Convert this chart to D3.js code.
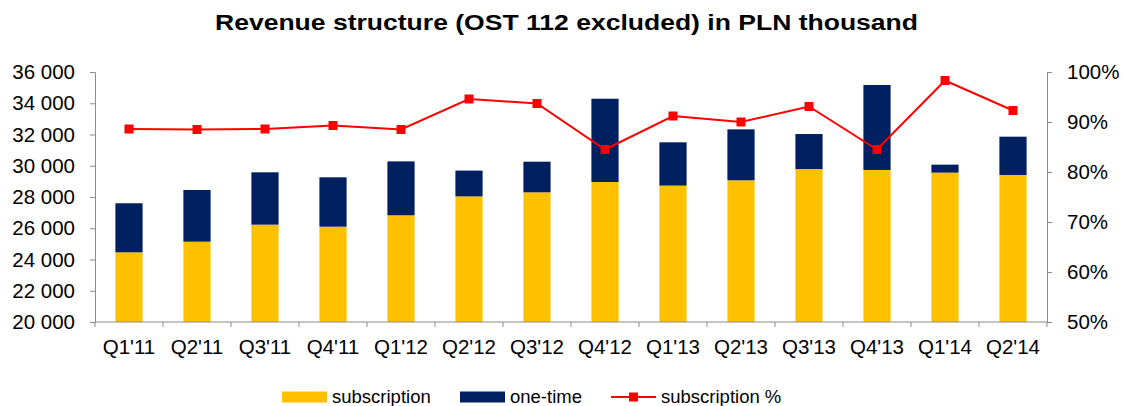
<!DOCTYPE html>
<html>
<head>
<meta charset="utf-8">
<script src="https://cdn.jsdelivr.net/npm/d3@7/dist/d3.min.js"></script>
<style>
  body { margin: 0; background: #fff; }
  text { font-family: "Liberation Sans", Arial, sans-serif; fill: #000; }
</style>
</head>
<body>
<div class="chart"></div>
<script>
const quarters = ["Q1'11", "Q2'11", "Q3'11", "Q4'11", "Q1'12", "Q2'12", "Q3'12",
                  "Q4'12", "Q1'13", "Q2'13", "Q3'13", "Q4'13", "Q1'14", "Q2'14"];
const subscription = [24460, 25140, 26230, 26100, 26830, 28040, 28300,
                      28960, 28730, 29070, 29790, 29730, 29560, 29410];
const totals = [27600, 28450, 29580, 29260, 30280, 29690, 30260,
                34290, 31500, 32330, 32030, 35170, 30070, 31860];
const subscriptionPct = [88.6, 88.5, 88.6, 89.3, 88.5, 94.6, 93.7,
                         84.5, 91.2, 90.0, 93.1, 84.5, 98.3, 92.3];
const leftTicks = [20000, 22000, 24000, 26000, 28000, 30000, 32000, 34000, 36000];
const rightTicks = [50, 60, 70, 80, 90, 100];

const W = 1123, H = 406;
const margin = { top: 72, right: 76, bottom: 84, left: 95 };
const fontSize = "20.5px";

const svg = d3.select(".chart").append("svg")
  .attr("width", W)
  .attr("height", H);

svg.append("text")
  .attr("x", 215)
  .attr("y", 30)
  .attr("textLength", 703)
  .attr("lengthAdjust", "spacingAndGlyphs")
  .style("font-size", "21.5px")
  .style("font-weight", "bold")
  .text("Revenue structure (OST 112 excluded) in PLN thousand");

const x = d3.scaleBand()
  .domain(quarters)
  .range([margin.left, W - margin.right])
  .paddingInner(0.6)
  .paddingOuter(0.3);

const y = d3.scaleLinear()
  .domain([20000, 36000])
  .range([H - margin.bottom, margin.top]);

const y2 = d3.scaleLinear()
  .domain([50, 100])
  .range([H - margin.bottom, margin.top]);

const step = (W - margin.right - margin.left) / quarters.length;

// bars
const g = svg.append("g");
g.selectAll("rect.sub").data(quarters).enter()
  .append("rect")
  .attr("class", "sub")
  .attr("x", d => x(d))
  .attr("width", x.bandwidth())
  .attr("y", (d, i) => y(subscription[i]))
  .attr("height", (d, i) => y(20000) - y(subscription[i]))
  .attr("fill", "#FFC000");

g.selectAll("rect.one").data(quarters).enter()
  .append("rect")
  .attr("class", "one")
  .attr("x", d => x(d))
  .attr("width", x.bandwidth())
  .attr("y", (d, i) => y(totals[i]))
  .attr("height", (d, i) => y(subscription[i]) - y(totals[i]))
  .attr("fill", "#002060");

// axes
const axisColor = "#8c8c8c";
const leftAxis = svg.append("g")
  .attr("transform", `translate(${margin.left},0)`)
  .call(d3.axisLeft(y).tickValues(leftTicks).tickSizeOuter(0).tickSize(5)
    .tickFormat(d => d3.format(",")(d).replace(",", " ")));
leftAxis.selectAll("text").attr("dx", "-12px");

const rightAxis = svg.append("g")
  .attr("transform", `translate(${W - margin.right},0)`)
  .call(d3.axisRight(y2).tickValues(rightTicks).tickSizeOuter(0).tickSize(5)
    .tickFormat(d => d + "%"));
rightAxis.selectAll("text").attr("dx", "12px");

const xAxis = svg.append("g")
  .attr("transform", `translate(0,${H - margin.bottom})`);
xAxis.append("line")
  .attr("x1", margin.left).attr("x2", W - margin.right)
  .attr("stroke", axisColor);
xAxis.selectAll("line.tick").data(d3.range(quarters.length + 1)).enter()
  .append("line")
  .attr("class", "tick")
  .attr("x1", i => margin.left + i * step)
  .attr("x2", i => margin.left + i * step)
  .attr("y2", 5)
  .attr("stroke", axisColor);
xAxis.selectAll("text").data(quarters).enter()
  .append("text")
  .attr("x", d => x(d) + x.bandwidth() / 2)
  .attr("y", 32)
  .attr("text-anchor", "middle")
  .style("font-size", fontSize)
  .text(d => d);

[leftAxis, rightAxis].forEach(a => {
  a.selectAll(".domain, line").attr("stroke", axisColor);
  a.selectAll("text")
   .style("fill", "#000")
   .style("font-size", fontSize)
   .style("font-family", "Liberation Sans, Arial, sans-serif");
});

// line
const cx = d => x(d) + x.bandwidth() / 2;
const line = d3.line()
  .x((d, i) => cx(quarters[i]))
  .y(d => y2(d));
svg.append("path")
  .datum(subscriptionPct)
  .attr("d", line)
  .attr("fill", "none")
  .attr("stroke", "#FF0000")
  .attr("stroke-width", 2);
svg.selectAll("rect.marker").data(subscriptionPct).enter()
  .append("rect")
  .attr("class", "marker")
  .attr("x", (d, i) => cx(quarters[i]) - 4.5)
  .attr("y", d => y2(d) - 4.5)
  .attr("width", 9)
  .attr("height", 9)
  .attr("fill", "#FF0000");

// legend
const legend = svg.append("g").attr("transform", "translate(0,397)");
legend.append("rect").attr("x", 282).attr("y", -5.5).attr("width", 45).attr("height", 11).attr("fill", "#FFC000");
legend.append("text").attr("x", 332).attr("y", 6).style("font-size", "18.5px").text("subscription");
legend.append("rect").attr("x", 460).attr("y", -5.5).attr("width", 45).attr("height", 11).attr("fill", "#002060");
legend.append("text").attr("x", 510).attr("y", 6).style("font-size", "18.5px").text("one-time");
legend.append("line").attr("x1", 611).attr("x2", 656).attr("stroke", "#FF0000").attr("stroke-width", 2);
legend.append("rect").attr("x", 629).attr("y", -4.5).attr("width", 9).attr("height", 9).attr("fill", "#FF0000");
legend.append("text").attr("x", 661).attr("y", 6).style("font-size", "18.5px").text("subscription %");
</script>
</body>
</html>
